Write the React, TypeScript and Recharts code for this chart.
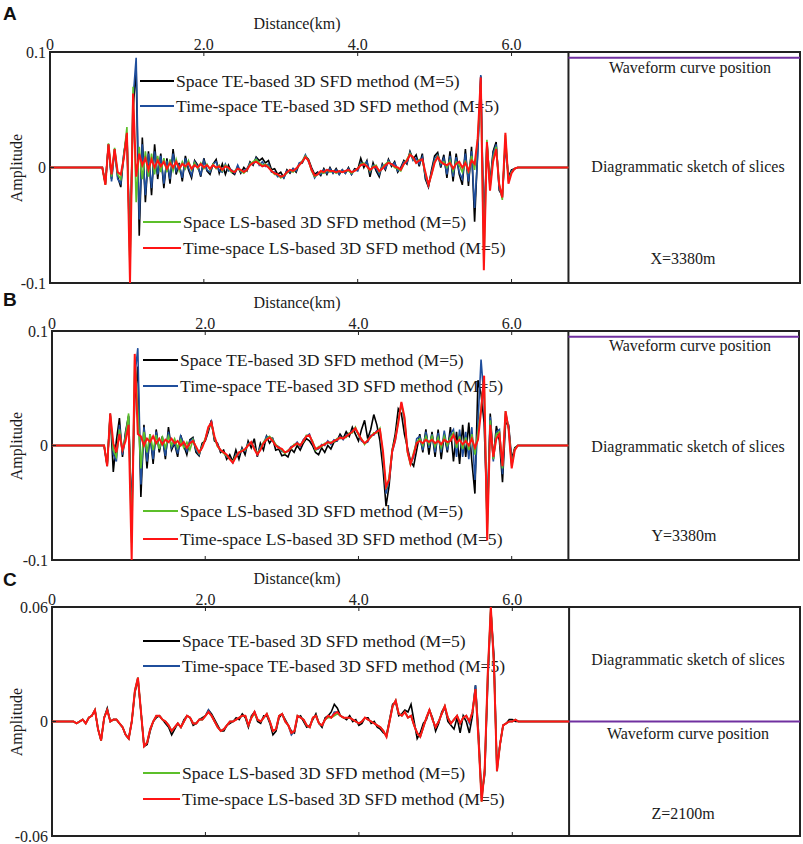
import React from "react";
import { LineChart, Line, XAxis, YAxis, ReferenceArea, ReferenceLine } from "recharts";

/**
 * Three seismic waveform panels (A: X=3380m, B: Y=3380m, C: Z=2100m), each with
 * four SFD method curves on the left and a "slice sketch" box on the right.
 * Amplitudes are stored in thousandths (0.001), axes are labelled in real units.
 */

const FONT = '"Liberation Serif", "Times New Roman", serif';
const FRAME = "#222222";
const PURPLE = "#7030a0";
const COLORS = { black: "#000000", blue: "#1f4e9c", green: "#5cbf2a", red: "#ff1414" };

const STEP_KM = 0.04;
const DIVIDER_KM = 6.74;
const X_MAX_KM = 9.75;
const X_TICKS = [0, 2, 4, 6];
const X_TICK_LABELS = ["0", "2.0", "4.0", "6.0"];

const LEGEND_NAMES = [
  "Space TE-based 3D SFD method (M=5)",
  "Time-space TE-based 3D SFD method (M=5)",
  "Space LS-based 3D SFD method (M=5)",
  "Time-space LS-based 3D SFD method (M=5)",
];

// ---------- Panel A (X=3380m), samples from 0.64 km every 0.04 km ----------
const START_A = 0.64;
const BLACK_A = [
  0, 0, -14, 20, -10, 16, -8, -17, 12, 28,
  -70, 50, 86, -59, 26, -30, 14, -24, 20, -10,
  12, -18, 8, -14, 16, -6, 4, -12, 10, -2,
  -9, 6, 2, -8, 8, -3, -6, 3, 7, -5,
  3, -6, 2, -4, -6, 1, -5, 0, -3, 5,
  2, 9, 6, 8, 4, 6, -2, -1, -6, -4,
  -9, -2, -5, -1, -4, 3, 4, 10, 7, 0,
  -6, -4, -7, -1, -6, 0, -5, -1, -6, -2,
  -5, 0, -6, -1, -2, 8, 0, 6, -8, 4,
  -3, -8, 3, -2, 7, 1, 5, -4, 0, 6,
  3, 14, 7, 11, 1, 12, -10, -17, -2, 10,
  13, 0, 11, -9, 14, -12, 12, -6, -15, 16,
  -16, 18, -47, 15, 79, -55, 22, -14, 14, 22,
  -20, -24, 20, -8, -2, -1, 0, 0,
];
const BLUE_A = [
  0, 0, -14, 20, -12, 15, -10, -14, 12, 30,
  -80, 60, 95, -45, 20, -24, 12, -18, 14, -6,
  10, -14, 6, -10, 12, -3, 2, -9, 8, 0,
  -7, 5, 1, -6, 6, -2, -4, 3, 5, -3,
  -4, 3, -3, -2, -5, 2, -4, -3, -1, 4,
  3, 8, 2, 5, 1, 3, -4, -4, -8, -7,
  -9, -3, -4, -1, -3, 4, 5, 11, 5, -1,
  -9, -5, -6, -2, -5, -1, -5, -2, -6, -2,
  -5, -1, -6, -2, -3, 4, 2, 5, -4, 2,
  -1, -6, 2, -1, 6, 2, 4, -3, -1, 5,
  4, 13, 6, 8, 3, 9, -8, -16, -4, 8,
  11, 2, 8, -6, 10, -8, 9, -4, -10, 12,
  -12, 14, -35, 10, 80, -60, 20, -16, 12, 20,
  -18, -26, 22, -10, -3, -1, 0, 0,
];
const GREEN_A = [
  0, 0, -15, 21, -8, 17, -6, -10, 10, 35,
  -90, 70, -30, 18, -10, 14, -8, 12, -6, 10,
  -4, 8, -4, 7, -3, 7, -3, 5, -1, 6,
  -2, 4, -1, 4, -1, 3, -2, 3, -1, 2,
  -3, 2, -1, -4, -3, -1, -3, -5, -2, 3,
  5, 7, 4, 2, 3, 1, -3, -6, -6, -9,
  -7, -5, -2, -4, -1, 2, 6, 10, 6, -3,
  -8, -6, -4, -5, -2, -4, -3, -5, -3, -4,
  -3, -3, -5, -3, -1, 3, 4, 1, -3, 1,
  2, -4, 0, 3, 5, 3, 0, -1, -3, 3,
  7, 12, 8, 4, 7, 6, -5, -15, -6, 5,
  10, 4, 5, 0, 6, -3, 5, 2, -4, 6,
  -5, 10, -2, 25, 72, -85, 24, -18, 8, 18,
  -14, -28, 28, -12, -4, -1, 0, 0,
];
const RED_A = [
  0, 0, -15, 20, -6, 16, -4, -6, 8, 30,
  -100, 64, -8, 12, 2, 8, -2, 7, 0, 6,
  1, 5, -1, 4, 0, 5, -1, 3, 1, 4,
  -1, 2, 0, 3, 0, 2, -1, 2, 0, 1,
  -2, 1, 0, -3, -4, -1, -2, -4, -2, 2,
  4, 5, 3, 1, 2, 0, -3, -5, -6, -8,
  -7, -4, -2, -3, -1, 2, 5, 9, 6, -2,
  -7, -6, -3, -4, -2, -3, -3, -4, -3, -4,
  -3, -2, -4, -3, -1, 2, 3, 1, -2, 0,
  1, -3, -1, 2, 4, 3, 1, 0, -2, 3,
  6, 11, 9, 4, 6, 7, -4, -15, -6, 4,
  9, 5, 3, 2, 4, -1, 3, 5, 0, 4,
  -3, 6, 3, 25, 78, -89, 22, -20, 5, 16,
  -15, -26, 30, -14, -5, -1, 0, 0,
];

// ---------- Panel B (Y=3380m) ----------
const START_B = 0.64;
const BLACK_B = [
  0, 0, -18, 28, -23, 4, 24, -10, 12, 26,
  -60, 40, 69, -45, 18, -20, 10, -16, 14, -6,
  8, -12, 16, -4, 2, -10, 9, 0, -8, 5,
  7, -6, -9, 2, 4, 12, 22, 4, 2, -6,
  -4, -12, -8, -14, -4, -12, -2, -8, 4, -2,
  6, -10, 2, -4, 8, 2, 6, -4, -3, -9,
  -8, -10, -3, -6, 0, -4, 2, 6, 4, 0,
  -6, -8, -2, -6, 0, -3, 3, 4, 10, 6,
  12, 8, 16, 10, 4, 14, 22, 6, 14, 27,
  18, 4, -20, -53, -35, -4, 10, 32, 28, 10,
  -2, -14, -18, -4, 10, -6, 14, -8, 12, -10,
  14, -12, 10, -6, 16, -14, 12, -16, 18, -10,
  20, -14, -42, 57, 45, 20, -60, 28, -12, 17,
  4, -32, 20, 18, -12, -2, 0, 0,
];
const BLUE_B = [
  0, 0, -17, 26, -8, -14, 18, -8, 10, 25,
  -70, 60, 85, -34, 16, -14, 8, -12, 12, -3,
  6, -9, 12, -2, 3, -7, 8, 1, -5, 4,
  6, -4, -8, 0, 5, 14, 21, 6, 1, -5,
  -6, -10, -11, -15, -8, -8, -3, -5, 2, 1,
  -1, -8, -1, 2, 8, 7, 6, 0, -1, -5,
  -6, -5, -1, 0, 3, -1, 5, 8, 10, 2,
  -4, -3, 1, 0, 4, 1, 5, 4, 8, 5,
  9, 10, 13, 14, 10, 4, 2, 3, 9, 9,
  13, 13, -10, -42, -30, -6, 4, 22, 37, 22,
  -4, -16, -10, 6, 8, -4, 12, -2, 10, -6,
  11, -6, 13, -4, 10, 14, -10, 14, -10, 12,
  -12, 16, -30, 20, 75, 40, -70, 25, -14, 12,
  14, -25, 28, 16, -16, -3, 0, 0,
];
const GREEN_B = [
  0, 0, -17, 27, -4, -10, 14, -5, 8, 28,
  -85, 75, 30, -20, 12, -6, 10, -4, 9, -3,
  7, -2, 8, 0, 6, -2, 5, -2, 3, -4,
  5, -2, -7, -1, 6, 15, 19, 7, -1, -4,
  -7, -9, -12, -14, -9, -7, -4, -4, 1, 2,
  -2, -7, -3, 3, 6, 8, 5, 1, -2, -4,
  -7, -4, -3, 1, 1, 1, 3, 9, 8, 4,
  -4, -1, -1, 2, 2, 3, 3, 6, 6, 7,
  7, 11, 11, 16, 9, 6, 1, 5, 7, 11,
  11, 15, -8, -38, -28, -4, 6, 22, 36, 24,
  -6, -17, -6, 3, 6, 0, 8, 1, 8, -1,
  7, -2, 8, 0, 7, 11, -2, 8, -3, 7,
  -4, 10, -8, 12, 32, 60, -78, 22, -12, 10,
  12, -20, 30, 14, -18, -3, 0, 0,
];
const RED_B = [
  0, 0, -18, 28, 2, -6, 10, -4, 4, 18,
  -100, 80, 10, 8, 0, 6, 3, 8, 2, 6,
  1, 5, 3, 6, 2, 4, 0, 3, -2, 2,
  4, -1, -6, -2, 5, 16, 20, 8, 0, -4,
  -6, -8, -12, -15, -10, -6, -5, -3, 0, 3,
  -3, -8, -4, 2, 5, 7, 4, 0, -2, -3,
  -6, -5, -2, 0, 2, 0, 4, 8, 9, 3,
  -3, -2, 0, 1, 3, 2, 4, 5, 7, 6,
  8, 10, 12, 15, 10, 5, 2, 4, 8, 10,
  12, 14, -5, -36, -30, -5, 5, 20, 38, 25,
  -5, -16, -8, 2, 4, 2, 5, 3, 5, 2,
  4, 1, 5, 3, 4, 9, 2, 5, 1, 4,
  0, 6, -2, 5, 30, 61, -83, 18, -10, 6,
  10, -18, 30, 14, -20, -4, 0, 0,
];

// ---------- Panel C (Z=2100m) ----------
const START_C = 0.24;
const BLACK_C = [
  0, 0, -1, 0, 1, -1, 2, 3, 6, -4,
  -10, 2, 7, 0, 1, 1, -1, -3, -7, -9,
  0, 15, 22, 5, -13, -12, -5, 0, 2, 3,
  1, -1, -3, -7, -4, -1, -3, 1, 3, 2,
  -2, -1, 1, 2, 3, 6, 4, 1, -2, -5,
  -5, -2, -1, 0, 2, 1, 4, 2, -3, 3,
  5, 0, -1, 3, 3, -1, -7, -5, 2, 4,
  1, -2, -5, -6, 2, 3, 0, -3, -2, 1,
  4, -1, -3, 2, 3, 5, 9, 7, 3, 2,
  1, 3, 0, 1, -2, -1, 2, 2, -1, 0,
  -3, -4, -6, -7, 1, 9, 10, 3, 4, 6,
  5, 9, 0, -9, -6, -1, 1, 6, 2, -5,
  -1, 5, 8, 0, -2, -4, 2, -6, 3, 0,
  -6, 3, 19, -6, -39, -28, 20, 58, 35, -24,
  -12, -2, -1, 1, 1, 0, 0, 0,
];
const BLUE_C = [
  0, 0, -1, 0, 1, -1, 2, 3, 6, -4,
  -10, 2, 6, 0, 1, 1, -1, -3, -7, -9,
  0, 16, 23, 5, -13, -11, -4, 0, 3, 3,
  1, 0, -2, -5, -3, -1, -3, 0, 3, 2,
  -1, -1, 1, 1, 3, 6, 3, 0, -3, -5,
  -4, -2, 0, 0, 1, 2, 3, 3, -2, 2,
  5, 1, 0, 2, 4, 0, -5, -4, 3, 4,
  0, -2, -7, -5, 3, 2, 1, -2, -3, 2,
  3, -1, -2, 1, 3, 2, 5, 5, 3, 2,
  2, 2, 1, 0, -1, 0, 2, 1, 0, -1,
  -2, -3, -5, -8, 0, 8, 11, 4, 3, 5,
  2, 3, -2, -6, -8, -3, 2, 6, 1, -3,
  0, 4, 7, 2, -1, 1, 3, -1, 2, 3,
  -1, 5, 19, -10, -41, -25, 24, 59, 31, -26,
  -12, -2, -1, 0, 0, 1, 0, 0,
];
const GREEN_C = [
  0, 0, -1, 0, 1, -1, 2, 3, 6, -4,
  -10, 2, 6, 0, 1, 1, -1, -3, -7, -9,
  0, 16, 23, 5, -13, -11, -4, 0, 3, 3,
  1, 0, -2, -5, -3, -1, -3, 0, 3, 2,
  -1, -1, 1, 1, 3, 5, 3, 0, -3, -5,
  -4, -2, 0, 0, 1, 2, 3, 3, -2, 2,
  4, 1, 0, 2, 4, 0, -5, -4, 3, 4,
  0, -2, -6, -5, 3, 2, 1, -2, -3, 2,
  3, -1, -2, 1, 2, 2, 3, 4, 3, 2,
  2, 2, 1, 0, -1, 0, 2, 1, 0, -1,
  -2, -3, -5, -8, 0, 8, 11, 4, 3, 5,
  2, 3, -2, -6, -8, -3, 2, 6, 1, -3,
  0, 4, 8, 2, -1, 1, 3, -1, 2, 3,
  0, 5, 17, -10, -42, -25, 25, 60, 30, -26,
  -12, -2, -1, 0, 0, 1, 0, 0,
];
const RED_C = [
  0, 0, -1, 0, 1, -1, 2, 3, 6, -4,
  -10, 2, 6, 0, 1, 1, -1, -3, -7, -9,
  0, 16, 23, 5, -13, -11, -4, 0, 3, 3,
  1, 0, -2, -5, -3, -1, -3, 0, 3, 2,
  -1, -1, 1, 1, 3, 5, 3, 0, -3, -5,
  -4, -2, 0, 0, 1, 2, 3, 3, -2, 2,
  5, 1, 0, 2, 4, 0, -5, -4, 3, 4,
  0, -2, -6, -5, 3, 2, 1, -2, -3, 2,
  3, -1, -2, 1, 3, 2, 4, 5, 3, 2,
  2, 2, 1, 0, -1, 0, 2, 1, 0, -1,
  -2, -3, -5, -8, 0, 8, 11, 4, 3, 5,
  2, 3, -2, -6, -8, -3, 2, 6, 1, -3,
  0, 4, 8, 2, -1, 1, 3, -1, 2, 3,
  0, 5, 17, -10, -42, -25, 25, 60, 30, -26,
  -12, -2, -1, 0, 0, 1, 0, 0,
];

type Row = { km: number; black: number; blue: number; green: number; red: number };

type LegendEntry = { x1: number; x2: number; y: number };
type BoxText = { text: string; x: number; y: number };

type PanelSpec = {
  letter: string;
  letterY: number;
  plotTop: number;
  plotBottom: number;
  plotLeft: number;
  plotRight: number;
  startKm: number;
  black: number[];
  blue: number[];
  green: number[];
  red: number[];
  yMax: number;
  yTicks: number[];
  yLabels: string[];
  purpleAt: number;
  legend: LegendEntry[];
  boxTexts: BoxText[];
};

const PANELS: PanelSpec[] = [
  {
    letter: "A",
    letterY: 14,
    plotTop: 52,
    plotBottom: 283,
    plotLeft: 50,
    plotRight: 800,
    startKm: START_A,
    black: BLACK_A,
    blue: BLUE_A,
    green: GREEN_A,
    red: RED_A,
    yMax: 100,
    yTicks: [-100, 0, 100],
    yLabels: ["-0.1", "0", "0.1"],
    purpleAt: 95,
    legend: [
      { x1: 140, x2: 174, y: 81 },
      { x1: 140, x2: 174, y: 106 },
      { x1: 143, x2: 181, y: 222 },
      { x1: 143, x2: 181, y: 248 },
    ],
    boxTexts: [
      { text: "Waveform curve position", x: 690, y: 68 },
      { text: "Diagrammatic sketch of slices", x: 688, y: 167 },
      { text: "X=3380m", x: 683, y: 259 },
    ],
  },
  {
    letter: "B",
    letterY: 300,
    plotTop: 331,
    plotBottom: 560,
    plotLeft: 52,
    plotRight: 799,
    startKm: START_B,
    black: BLACK_B,
    blue: BLUE_B,
    green: GREEN_B,
    red: RED_B,
    yMax: 100,
    yTicks: [-100, 0, 100],
    yLabels: ["-0.1", "0", "0.1"],
    purpleAt: 95,
    legend: [
      { x1: 143, x2: 178, y: 360 },
      { x1: 143, x2: 178, y: 386 },
      { x1: 143, x2: 178, y: 511 },
      { x1: 143, x2: 178, y: 539 },
    ],
    boxTexts: [
      { text: "Waveform curve position", x: 690, y: 346 },
      { text: "Diagrammatic sketch of slices", x: 688, y: 447 },
      { text: "Y=3380m", x: 684, y: 536 },
    ],
  },
  {
    letter: "C",
    letterY: 580,
    plotTop: 607,
    plotBottom: 836,
    plotLeft: 52,
    plotRight: 800,
    startKm: START_C,
    black: BLACK_C,
    blue: BLUE_C,
    green: GREEN_C,
    red: RED_C,
    yMax: 60,
    yTicks: [-60, 0, 60],
    yLabels: ["-0.06", "0", "0.06"],
    purpleAt: 0,
    legend: [
      { x1: 143, x2: 180, y: 641 },
      { x1: 143, x2: 180, y: 666 },
      { x1: 143, x2: 180, y: 773 },
      { x1: 143, x2: 180, y: 799 },
    ],
    boxTexts: [
      { text: "Diagrammatic sketch of slices", x: 688, y: 660 },
      { text: "Waveform curve position", x: 688, y: 734 },
      { text: "Z=2100m", x: 683, y: 814 },
    ],
  },
];

const SERIES: { key: "black" | "blue" | "green" | "red"; width: number }[] = [
  { key: "black", width: 1.6 },
  { key: "blue", width: 1.6 },
  { key: "green", width: 1.6 },
  { key: "red", width: 2 },
];

const LEGEND_COLORS = [COLORS.black, COLORS.blue, COLORS.green, COLORS.red];

function buildRows(p: PanelSpec): Row[] {
  const rows: Row[] = [{ km: 0, black: 0, blue: 0, green: 0, red: 0 }];
  p.red.forEach((_, i) => {
    rows.push({
      km: +(p.startKm + i * STEP_KM).toFixed(2),
      black: p.black[i],
      blue: p.blue[i],
      green: p.green[i],
      red: p.red[i],
    });
  });
  // flat trace up to the divider
  rows.push({ km: DIVIDER_KM, black: 0, blue: 0, green: 0, red: 0 });
  return rows;
}

const TICK_STYLE = { fill: "#222", fontSize: 16, fontFamily: FONT };

const textStyle: React.CSSProperties = {
  position: "absolute",
  fontFamily: FONT,
  fontSize: 16,
  lineHeight: "20px",
  whiteSpace: "nowrap",
  color: "#1a1a1a",
};

function WavePanel({ p }: { p: PanelSpec }) {
  const rows = buildRows(p);
  const chartTop = p.plotTop - 40;
  const chartH = p.plotBottom - p.plotTop + 56;
  const zeroY = (p.plotTop + p.plotBottom) / 2;

  return (
    <>
      {/* texts sit under the chart svg so the traces cross over them */}
      <div
        style={{
          position: "absolute",
          left: 3,
          top: p.letterY - 11,
          fontFamily: '"Liberation Sans", Arial, sans-serif',
          fontWeight: 700,
          fontSize: 19,
          lineHeight: "22px",
          color: "#111",
        }}
      >
        {p.letter}
      </div>

      <div style={{ ...textStyle, left: 297, top: p.plotTop - 38, transform: "translateX(-50%)" }}>
        Distance(km)
      </div>
      <div
        style={{
          ...textStyle,
          left: 17,
          top: zeroY,
          transform: "translate(-50%, -50%) rotate(-90deg)",
        }}
      >
        Amplitude
      </div>

      {p.legend.map((e, i) => (
        <React.Fragment key={i}>
          <div
            style={{
              position: "absolute",
              left: e.x1,
              top: e.y - 1,
              width: e.x2 - e.x1,
              height: 2,
              background: LEGEND_COLORS[i],
            }}
          />
          <div style={{ ...textStyle, fontSize: 17.6, left: e.x2 + 2, top: e.y - 10 }}>{LEGEND_NAMES[i]}</div>
        </React.Fragment>
      ))}

      {p.boxTexts.map((t) => (
        <div key={t.text} style={{ ...textStyle, left: t.x, top: t.y - 10, transform: "translateX(-50%)" }}>
          {t.text}
        </div>
      ))}

      <div style={{ position: "absolute", left: 0, top: chartTop }}>
        <LineChart
          width={803}
          height={chartH}
          data={rows}
          margin={{ top: 20, right: 803 - p.plotRight, bottom: 15, left: 0 }}
        >
          <XAxis
            orientation="top"
            type="number"
            dataKey="km"
            domain={[0, X_MAX_KM]}
            allowDataOverflow
            ticks={X_TICKS}
            interval={0}
            tickFormatter={(v: number) => X_TICK_LABELS[X_TICKS.indexOf(v)] ?? ""}
            height={20}
            axisLine={false}
            tickSize={-4}
            tickMargin={6}
            tick={TICK_STYLE}
            tickLine={{ stroke: FRAME }}
          />
          <XAxis
            xAxisId="bottom"
            orientation="bottom"
            type="number"
            dataKey="km"
            domain={[0, X_MAX_KM]}
            allowDataOverflow
            ticks={X_TICKS.slice(1)}
            interval={0}
            tickFormatter={() => ""}
            height={1}
            axisLine={false}
            tickSize={-4}
            tickLine={{ stroke: FRAME }}
          />
          <YAxis
            type="number"
            width={p.plotLeft}
            domain={[-p.yMax, p.yMax]}
            allowDataOverflow
            ticks={p.yTicks}
            interval={0}
            tickFormatter={(v: number) => p.yLabels[p.yTicks.indexOf(v)] ?? ""}
            axisLine={false}
            tickSize={-4}
            tickMargin={8}
            tick={TICK_STYLE}
            tickLine={{ stroke: FRAME }}
          />
          <ReferenceArea
            x1={0}
            x2={X_MAX_KM}
            y1={-p.yMax}
            y2={p.yMax}
            fill="none"
            stroke={FRAME}
            strokeWidth={2}
          />
          <ReferenceLine x={DIVIDER_KM} stroke={FRAME} strokeWidth={2} />
          <ReferenceLine
            segment={[
              { x: DIVIDER_KM, y: p.purpleAt },
              { x: X_MAX_KM, y: p.purpleAt },
            ]}
            stroke={PURPLE}
            strokeWidth={2}
          />
          {SERIES.map((s) => (
            <Line
              key={s.key}
              type="linear"
              dataKey={s.key}
              stroke={COLORS[s.key]}
              strokeWidth={s.width}
              dot={false}
              activeDot={false}
              isAnimationActive={false}
            />
          ))}
        </LineChart>
      </div>
    </>
  );
}

export default function App() {
  return (
    <div
      style={{
        position: "absolute",
        left: 0,
        top: 0,
        width: 803,
        height: 844,
        background: "#ffffff",
        overflow: "hidden",
      }}
    >
      {PANELS.map((p) => (
        <WavePanel key={p.letter} p={p} />
      ))}
    </div>
  );
}
